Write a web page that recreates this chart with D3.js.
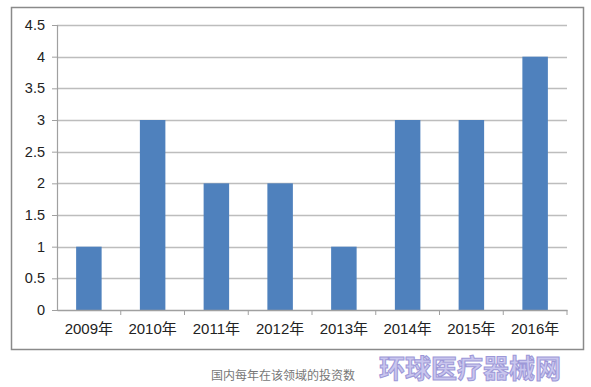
<!DOCTYPE html>
<html>
<head>
<meta charset="utf-8">
<script src="https://cdn.jsdelivr.net/npm/d3@7"></script>
<style>
  body { margin: 0; background: #fff; }
  svg { display: block; }
</style>
</head>
<body>
<div id="chart-container"></div>
<script>
const years = ["2009年", "2010年", "2011年", "2012年", "2013年", "2014年", "2015年", "2016年"];
const counts = [1, 3, 2, 2, 1, 3, 3, 4];
const yTicks = [0, 0.5, 1, 1.5, 2, 2.5, 3, 3.5, 4, 4.5];
const caption = "国内每年在该领域的投资数";
const watermark = "环球医疗器械网";

const W = 591, H = 387;
const margin = { top: 25, right: 24, bottom: 77, left: 57 };
const width = W - margin.left - margin.right;
const height = H - margin.top - margin.bottom;

const root = d3.select("#chart-container").append("svg")
  .attr("width", W).attr("height", H);

// Outer frame
root.append("rect")
  .attr("x", 11.5).attr("y", 7.5)
  .attr("width", 572).attr("height", 342)
  .attr("fill", "#fff").attr("stroke", "#8a8a8a").attr("stroke-width", 1.5);

const svg = root.append("g")
  .attr("transform", `translate(${margin.left},${margin.top})`);

const x = d3.scaleBand().domain(years).range([0, width]).paddingInner(0.6).paddingOuter(0.3);
const xb = d3.scaleBand().domain(years).range([0, width]);
const y = d3.scaleLinear().domain([0, 4.5]).range([height, 0]);

// Gridlines
svg.append("g")
  .selectAll("line")
  .data(yTicks.filter(d => d > 0))
  .join("line")
  .attr("x1", 0).attr("x2", width)
  .attr("y1", d => Math.round(y(d)) + 0.5).attr("y2", d => Math.round(y(d)) + 0.5)
  .attr("stroke", "#bdbdbd").attr("stroke-width", 1.5);

// Bars
svg.append("g")
  .selectAll("rect")
  .data(counts)
  .join("rect")
  .attr("x", (d, i) => x(years[i]))
  .attr("width", x.bandwidth())
  .attr("y", d => y(d))
  .attr("height", d => height - y(d))
  .attr("fill", "#4f81bd");

// Y axis
const yAxis = svg.append("g")
  .call(d3.axisLeft(y).tickValues(yTicks).tickSize(5).tickPadding(7).tickFormat(d3.format("~g")));
yAxis.select(".domain").attr("stroke", "#a0a0a0").attr("stroke-width", 1.2);
yAxis.selectAll(".tick line").attr("stroke", "#a0a0a0");
yAxis.selectAll("text")
  .attr("font-family", "Liberation Sans, Arial, sans-serif")
  .attr("font-size", 14.5).attr("fill", "#222");

// X axis
const xAxis = svg.append("g")
  .attr("transform", `translate(0,${height})`)
  .call(d3.axisBottom(xb).tickSize(0).tickPadding(13));
xAxis.select(".domain").attr("stroke", "#a0a0a0").attr("stroke-width", 1.5);
xAxis.selectAll("text")
  .attr("font-family", "Liberation Sans, Noto Sans CJK SC, sans-serif")
  .attr("font-size", 15).attr("fill", "#222");

// Category boundary ticks
svg.append("g")
  .selectAll("line")
  .data(years.slice(1).concat([null]))
  .join("line")
  .attr("x1", (d, i) => d ? xb(d) : width)
  .attr("x2", (d, i) => d ? xb(d) : width)
  .attr("y1", height).attr("y2", height + 5)
  .attr("stroke", "#a0a0a0");

// Caption
root.append("text")
  .attr("x", 283).attr("y", 380)
  .attr("text-anchor", "middle")
  .attr("font-family", "Noto Sans CJK SC, sans-serif")
  .attr("font-size", 12).attr("fill", "#777")
  .text(caption);

// Watermark
root.append("text")
  .attr("x", 470).attr("y", 378)
  .attr("text-anchor", "middle")
  .attr("font-family", "Noto Sans CJK SC, sans-serif")
  .attr("font-weight", "bold")
  .attr("font-size", 26).attr("fill", "#c9c6ee")
  .attr("stroke", "#9d98d8").attr("stroke-width", 1)
  .text(watermark);
</script>
</body>
</html>
